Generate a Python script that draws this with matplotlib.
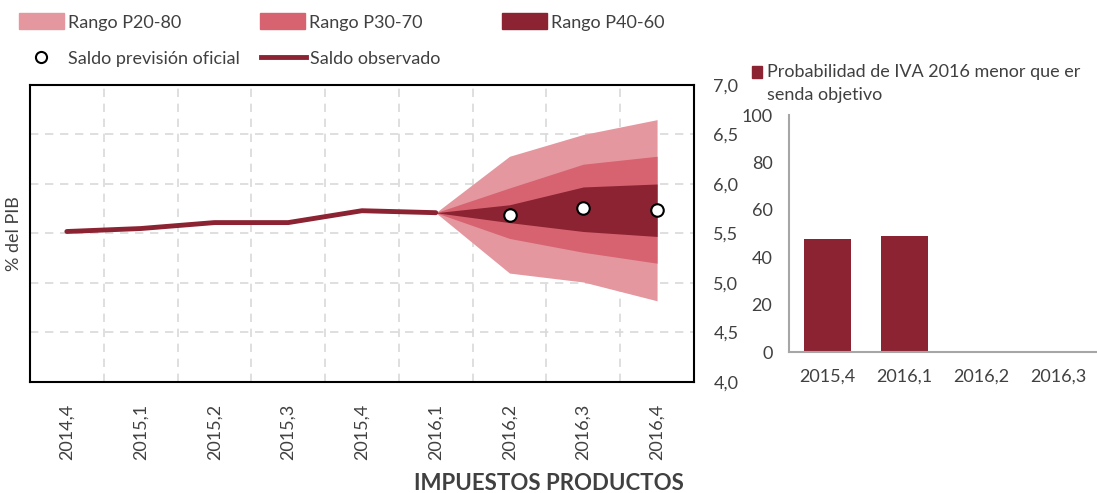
import numpy as np
import matplotlib.pyplot as plt
from matplotlib.patches import Patch
from matplotlib.lines import Line2D

plt.rcParams['font.family'] = ['Lato', 'DejaVu Sans']

# ---- Data ----
quarters = ["2014,4", "2015,1", "2015,2", "2015,3", "2015,4",
            "2016,1", "2016,2", "2016,3", "2016,4"]
observed = [5.52, 5.55, 5.61, 5.61, 5.73, 5.71]

# fan chart from 2016,1 (last observed) to 2016,4
fan_quarters = ["2016,1", "2016,2", "2016,3", "2016,4"]
p20 = [5.71, 5.10, 5.01, 4.82]
p30 = [5.71, 5.45, 5.31, 5.20]
p40 = [5.71, 5.61, 5.52, 5.47]
p60 = [5.71, 5.79, 5.97, 6.00]
p70 = [5.71, 5.96, 6.20, 6.28]
p80 = [5.71, 6.28, 6.50, 6.65]

official_quarters = ["2016,2", "2016,3", "2016,4"]
official = [5.69, 5.76, 5.74]

prob_quarters = ["2015,4", "2016,1", "2016,2", "2016,3"]
prob_values = [47.5, 49.0, 0, 0]

# ---- Style ----
c_light = '#E4979F'
c_mid = '#D6636F'
c_dark = '#8B2332'
c_text = '#404040'
fs = 13

fig = plt.figure(figsize=(10.97, 4.93), dpi=100)

# ---- Left: fan chart ----
ax = fig.add_axes([0.0273, 0.2252, 0.6053, 0.6024])
x = np.arange(len(quarters))
xf = np.array([quarters.index(q) for q in fan_quarters])
xo = np.array([quarters.index(q) for q in official_quarters])

ax.fill_between(xf, p20, p80, color=c_light, lw=0, zorder=2)
ax.fill_between(xf, p30, p70, color=c_mid, lw=0, zorder=3)
ax.fill_between(xf, p40, p60, color=c_dark, lw=0, zorder=4)
ax.plot(x[:len(observed)], observed, color=c_dark, lw=3.5, zorder=5,
        solid_capstyle='round')
ax.plot(xo, official, 'o', ms=9, mfc='white', mec='black', mew=1.5, zorder=6)

ax.set_xlim(-0.5, len(quarters) - 0.5)
ax.set_ylim(4.0, 7.0)
ax.set_yticks(np.arange(4.0, 7.01, 0.5))
ax.set_yticklabels([f"{v:.1f}".replace('.', ',') for v in np.arange(4.0, 7.01, 0.5)])
ax.yaxis.tick_right()
ax.set_xticks(x)
ax.set_xticklabels(quarters, rotation=90)
ax.set_xticks(x[:-1] + 0.5, minor=True)
ax.tick_params(axis='both', which='both', length=0, labelsize=fs, colors=c_text)
ax.tick_params(axis='y', pad=14)
ax.tick_params(axis='x', pad=16)
ax.grid(True, axis='y', which='major', ls=(0, (5, 4)), color='#D9D9D9', lw=1.2, zorder=1)
ax.grid(True, axis='x', which='minor', ls=(0, (5, 4)), color='#D9D9D9', lw=1.2, zorder=1)
for s in ax.spines.values():
    s.set_linewidth(1.5)
    s.set_color('black')
ax.set_ylabel("% del PIB", fontsize=fs, color=c_text, labelpad=6)

# legend for left chart
handles1 = [Patch(color=c_light, label='Rango P20-80'),
            Patch(color=c_mid, label='Rango P30-70'),
            Patch(color=c_dark, label='Rango P40-60')]
fig.legend(handles=handles1, loc='upper left', bbox_to_anchor=(0.0023, 1.006),
           ncol=3, frameon=False, fontsize=fs, handlelength=2.5, handleheight=1.0,
           handletextpad=0.2, columnspacing=4.4, labelcolor=c_text)
handles2 = [Line2D([], [], ls='none', marker='o', ms=8, mfc='white', mec='black', mew=1.5,
                   label='Saldo previsión oficial'),
            Line2D([], [], color=c_dark, lw=3.5, label='Saldo observado')]
fig.legend(handles=handles2, loc='upper left', bbox_to_anchor=(0.0023, 0.930),
           ncol=2, frameon=False, fontsize=fs, handlelength=2.5,
           handletextpad=0.2, columnspacing=1.2, labelcolor=c_text)

# ---- Right: probability bars ----
ax2 = fig.add_axes([0.7193, 0.286, 0.2807, 0.4807])
xb = np.arange(len(prob_quarters))
ax2.bar(xb, prob_values, width=0.61, color=c_dark, zorder=2)
ax2.set_xlim(-0.5, len(prob_quarters) - 0.5)
ax2.set_ylim(0, 100)
ax2.set_yticks(np.arange(0, 101, 20))
ax2.set_xticks(xb)
ax2.set_xticklabels(prob_quarters)
ax2.tick_params(axis='both', length=0, labelsize=fs, colors=c_text)
ax2.tick_params(axis='x', pad=12)
ax2.tick_params(axis='y', pad=12)
for side in ['top', 'right']:
    ax2.spines[side].set_visible(False)
for side in ['left', 'bottom']:
    ax2.spines[side].set_color('#A6A6A6')
    ax2.spines[side].set_linewidth(1.5)

fig.patches.append(plt.Rectangle((0.6855, 0.842), 0.0095, 0.024, color=c_dark,
                                 transform=fig.transFigure, figure=fig))
fig.text(0.699, 0.830, "Probabilidad de IVA 2016 menor que er\nsenda objetivo",
         fontsize=fs, color=c_text, va='center', ha='left', linespacing=1.55)

fig.text(0.5, 0.007, "IMPUESTOS PRODUCTOS", fontsize=16, fontweight='bold',
         color=c_text, ha='center', va='baseline')

fig.savefig("out.png", dpi=100)
